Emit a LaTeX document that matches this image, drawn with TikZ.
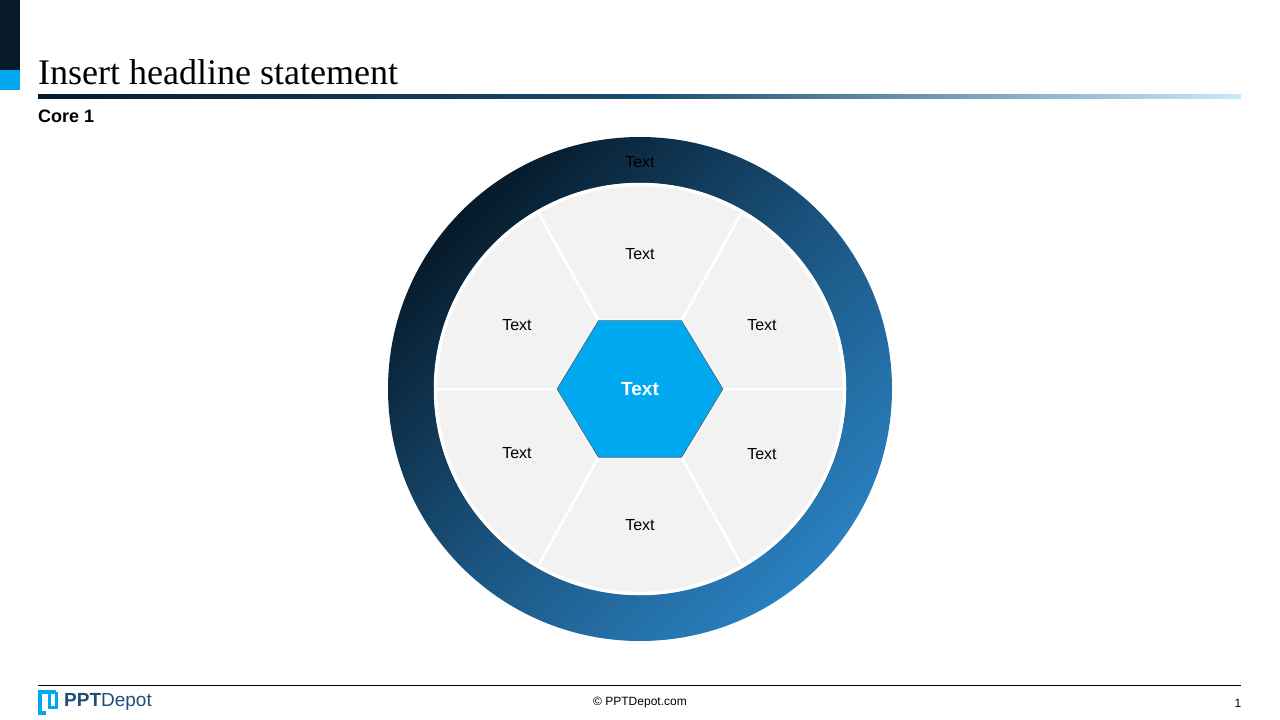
\documentclass[tikz,border=0pt]{standalone}
\usepackage{fontspec}
\setmainfont{Liberation Sans}
\newfontfamily\titlefont{Liberation Serif}
\usetikzlibrary{calc}
\definecolor{navy}{HTML}{061A2A}
\definecolor{ringblue}{HTML}{2A80C0}
\definecolor{cyanhex}{HTML}{00A8F0}
\definecolor{segfill}{HTML}{F2F2F2}
\definecolor{logoblue}{HTML}{1F4E79}
\definecolor{skyline}{HTML}{C8E9FA}
\tikzset{
  seglabel/.style={font=\fontsize{16}{19}\selectfont, text=black},
  segment/.style={fill=segfill, draw=white, line width=2.5pt, line join=round}
}
\begin{document}
\begin{tikzpicture}[x=1pt,y=-1pt]
    \useasboundingbox (0,0) rectangle (1280,720);
    % Corner bar
    \fill[navy] (0,0) rectangle (20,70);
    \fill[cyanhex] (0,70) rectangle (20,90);

    % Headline
    \node[anchor=base west, inner sep=0pt, font=\titlefont\fontsize{36}{40}\selectfont] (title) at (38,84) {Insert headline statement};
    \shade[left color=navy, right color=skyline, middle color=navy!50!ringblue] (38,94.5) rectangle (1241,98.5);
    \node[anchor=base west, inner sep=0pt, font=\bfseries\fontsize{18}{20}\selectfont] (sub) at (38,122) {Core 1};

    % Ring
    \coordinate (c) at (640,389);
    \shade[top color=navy, bottom color=ringblue, middle color=ringblue!55!navy, shading angle=45] (c) circle (252);
    \fill[white] (c) circle (206);

    % Segments
    \foreach \a in {0,60,...,300}{
      \draw[segment] ($(c)+(\a:83 and 79)$) -- ($(c)+(\a:204)$) arc[start angle=\a, end angle=\a+60, radius=204] -- ($(c)+(\a+60:83 and 79)$) -- cycle;
    }
    \draw[white, line width=2.5pt] (c) circle (205);

    % Hexagon
    \draw[fill=cyanhex, draw=navy!70, line width=0.6pt] ($(c)+(0:83 and 79)$) \foreach \a in {60,120,...,300}{ -- ($(c)+(\a:83 and 79)$)} -- cycle;
    \node[font=\bfseries\fontsize{19}{22}\selectfont, text=white] (hub) at (c) {Text};

    % Segment labels
    \foreach \x/\y/\n in {0/-135/s1,122/-64/s2,122/65/s3,0/136/s4,-123/64/s5,-123/-64/s6}{
      \node[seglabel] (\n) at ($(c)+(\x,\y)$) {Text};
    }
    \node[seglabel] (ringlabel) at (640,162) {Text};

    % Footer
    \draw[black, line width=0.8pt] (38,685) -- (1241,685);
    \draw[cyanhex, line width=4pt] (56,692) -- (40,692) -- (40,713) -- (46,713);
    \draw[cyanhex, line width=3pt] (49,694) -- (49,707) -- (56,707) -- (56,692);
    \node[anchor=west, inner sep=0pt, text=logoblue, font=\fontsize{19}{21}\selectfont] (logo) at (64,702) {\textbf{PPT}Depot};
    \node[font=\fontsize{12}{14}\selectfont] (copy) at (640,703) {© PPTDepot.com};
    \node[font=\fontsize{12}{14}\selectfont] (page) at (1238,703) {1};
\end{tikzpicture}
\end{document}
